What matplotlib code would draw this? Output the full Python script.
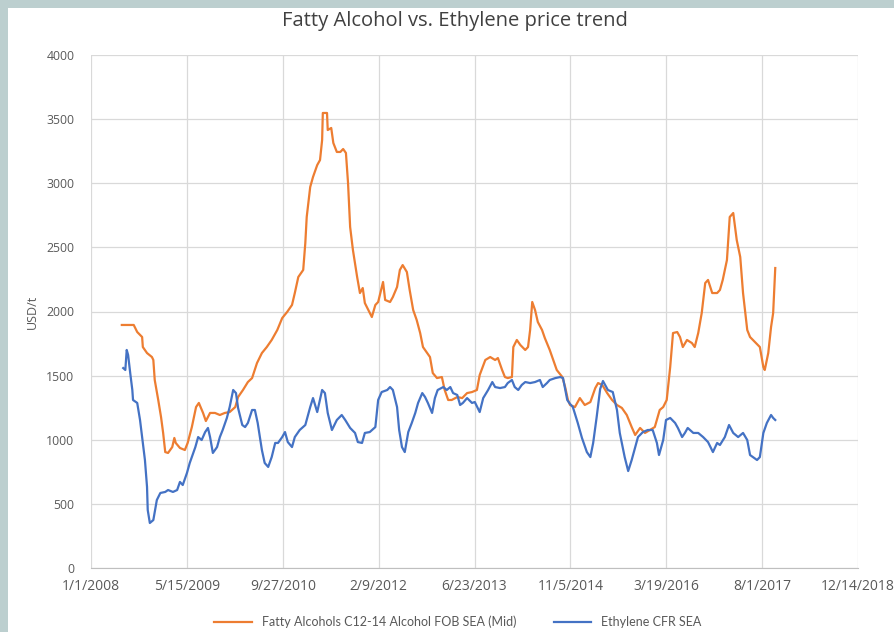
import matplotlib
matplotlib.use("Agg")
import matplotlib.pyplot as plt
import matplotlib.dates as mdates
from matplotlib.patches import Rectangle
import numpy as np
import pandas as pd

title = "Fatty Alcohol vs. Ethylene price trend"
y_label = "USD/t"
series_names = ["Fatty Alcohols C12-14 Alcohol FOB SEA (Mid)", "Ethylene CFR SEA"]

# dates as decimal years
fa_years = [2008.44, 2008.61, 2008.66, 2008.73, 2008.74, 2008.80, 2008.87, 2008.89, 2008.91, 2008.96,
            2009.00, 2009.03, 2009.06, 2009.10, 2009.16, 2009.19, 2009.21, 2009.27, 2009.34, 2009.38,
            2009.44, 2009.50, 2009.54, 2009.60, 2009.64, 2009.70, 2009.77, 2009.84, 2009.91, 2009.98,
            2010.06, 2010.10, 2010.17, 2010.24, 2010.30, 2010.37, 2010.44, 2010.51, 2010.58, 2010.66,
            2010.73, 2010.80, 2010.87, 2010.91, 2010.96, 2011.03, 2011.06, 2011.08, 2011.13, 2011.17,
            2011.23, 2011.27, 2011.30, 2011.31, 2011.37, 2011.38, 2011.43, 2011.46, 2011.51, 2011.56,
            2011.60, 2011.64, 2011.67, 2011.70, 2011.74, 2011.80, 2011.84, 2011.88, 2011.91, 2011.96,
            2012.01, 2012.06, 2012.10, 2012.17, 2012.20, 2012.27, 2012.31, 2012.37, 2012.41, 2012.45,
            2012.51, 2012.55, 2012.60, 2012.65, 2012.70, 2012.74, 2012.80, 2012.84, 2012.88, 2012.94,
            2013.01, 2013.05, 2013.10, 2013.15, 2013.23, 2013.30, 2013.37, 2013.44, 2013.51, 2013.55,
            2013.63, 2013.70, 2013.77, 2013.81, 2013.87, 2013.91, 2013.95, 2014.01, 2014.03, 2014.08,
            2014.13, 2014.20, 2014.24, 2014.27, 2014.30, 2014.34, 2014.38, 2014.44, 2014.48, 2014.55,
            2014.60, 2014.65, 2014.73, 2014.77, 2014.81, 2014.84, 2014.91, 2014.98, 2015.05, 2015.13,
            2015.20, 2015.24, 2015.30, 2015.37, 2015.44, 2015.51, 2015.58, 2015.65, 2015.72, 2015.77,
            2015.84, 2015.91, 2015.98, 2016.05, 2016.12, 2016.17, 2016.22, 2016.27, 2016.31, 2016.37,
            2016.41, 2016.45, 2016.51, 2016.58, 2016.62, 2016.67, 2016.72, 2016.77, 2016.81, 2016.87,
            2016.94, 2016.98, 2017.02, 2017.08, 2017.12, 2017.17, 2017.22, 2017.27, 2017.31, 2017.37,
            2017.41, 2017.48, 2017.55, 2017.60, 2017.62, 2017.67, 2017.71, 2017.74, 2017.77]
fa_values = [1895, 1895, 1840, 1801, 1723, 1676, 1645, 1622, 1466, 1310,
             1177, 1053, 904, 897, 943, 1014, 975, 936, 920, 975,
             1099, 1255, 1287, 1209, 1146, 1209, 1209, 1193, 1209, 1216,
             1255, 1333, 1388, 1450, 1481, 1598, 1676, 1723, 1778, 1856,
             1949, 1996, 2051, 2144, 2269, 2324, 2534, 2737, 2971, 3049,
             3142, 3181, 3337, 3548, 3548, 3415, 3431, 3314, 3244, 3244,
             3267, 3236, 3002, 2659, 2479, 2269, 2144, 2183, 2066, 2012,
             1957, 2051, 2074, 2230, 2090, 2074, 2113, 2191, 2324, 2362,
             2308, 2168, 2012, 1934, 1832, 1723, 1676, 1645, 1520, 1481,
             1489, 1388, 1310, 1310, 1333, 1325, 1364, 1372, 1388, 1505,
             1622, 1645, 1622, 1637, 1544, 1489, 1481, 1489, 1723, 1778,
             1739, 1700, 1723, 1856, 2074, 2012, 1918, 1856, 1793, 1700,
             1622, 1544, 1489, 1411, 1310, 1271, 1255, 1325, 1271, 1294,
             1403, 1442, 1427, 1364, 1310, 1271, 1248, 1193, 1099, 1037,
             1092, 1053, 1076, 1099, 1232, 1255, 1310, 1567, 1832, 1840,
             1801, 1723, 1778, 1754, 1723, 1832, 1988, 2222, 2246, 2144,
             2144, 2168, 2246, 2401, 2737, 2768, 2557, 2425, 2144, 1856,
             1801, 1762, 1723, 1567, 1544, 1676, 1879, 1988, 2339]

et_years = [2008.46, 2008.49, 2008.51, 2008.53, 2008.56, 2008.59, 2008.60, 2008.66, 2008.70, 2008.73,
            2008.77, 2008.80, 2008.81, 2008.84, 2008.89, 2008.94, 2008.99, 2009.06, 2009.10, 2009.17,
            2009.23, 2009.27, 2009.31, 2009.37, 2009.41, 2009.49, 2009.53, 2009.58, 2009.63, 2009.67,
            2009.70, 2009.74, 2009.80, 2009.84, 2009.88, 2009.94, 2009.98, 2010.03, 2010.07, 2010.10,
            2010.16, 2010.20, 2010.24, 2010.30, 2010.34, 2010.38, 2010.44, 2010.48, 2010.53, 2010.58,
            2010.63, 2010.67, 2010.73, 2010.77, 2010.81, 2010.87, 2010.91, 2010.98, 2011.06, 2011.13,
            2011.17, 2011.23, 2011.30, 2011.34, 2011.38, 2011.44, 2011.51, 2011.58, 2011.63, 2011.70,
            2011.77, 2011.81, 2011.87, 2011.91, 2011.98, 2012.06, 2012.10, 2012.15, 2012.23, 2012.27,
            2012.31, 2012.37, 2012.40, 2012.44, 2012.48, 2012.53, 2012.58, 2012.63, 2012.67, 2012.73,
            2012.77, 2012.81, 2012.87, 2012.91, 2012.95, 2013.03, 2013.08, 2013.13, 2013.17, 2013.23,
            2013.27, 2013.31, 2013.37, 2013.44, 2013.48, 2013.55, 2013.60, 2013.67, 2013.73, 2013.77,
            2013.84, 2013.91, 2013.95, 2014.01, 2014.05, 2014.10, 2014.15, 2014.20, 2014.27, 2014.34,
            2014.41, 2014.45, 2014.51, 2014.55, 2014.63, 2014.70, 2014.74, 2014.80, 2014.84, 2014.88,
            2014.95, 2015.01, 2015.08, 2015.13, 2015.17, 2015.22, 2015.27, 2015.31, 2015.38, 2015.45,
            2015.51, 2015.55, 2015.62, 2015.67, 2015.72, 2015.77, 2015.81, 2015.88, 2015.95, 2016.02,
            2016.08, 2016.11, 2016.17, 2016.21, 2016.27, 2016.34, 2016.38, 2016.44, 2016.48, 2016.52,
            2016.60, 2016.67, 2016.74, 2016.81, 2016.88, 2016.94, 2016.98, 2017.05, 2017.11, 2017.17,
            2017.24, 2017.31, 2017.37, 2017.41, 2017.45, 2017.51, 2017.55, 2017.60, 2017.65, 2017.71,
            2017.74, 2017.77]
et_values = [1559, 1544, 1700, 1661, 1520, 1388, 1310, 1287, 1154, 1021,
             842, 632, 452, 351, 374, 530, 585, 593, 608, 593,
             608, 671, 647, 741, 819, 943, 1021, 998, 1060, 1092,
             1021, 897, 943, 1021, 1076, 1170, 1255, 1388, 1364, 1248,
             1115, 1099, 1131, 1232, 1232, 1131, 920, 819, 788, 865,
             975, 975, 1021, 1060, 982, 943, 1021, 1076, 1115, 1255,
             1325, 1216, 1388, 1364, 1209, 1076, 1154, 1193, 1154, 1092,
             1053, 982, 975, 1053, 1060, 1099, 1310, 1372, 1388, 1411,
             1388, 1255, 1076, 943, 904, 1060, 1131, 1209, 1287, 1364,
             1333, 1287, 1209, 1325, 1388, 1411, 1388, 1411, 1364, 1349,
             1271, 1287, 1325, 1287, 1294, 1216, 1325, 1388, 1450, 1411,
             1403, 1411, 1442, 1466, 1411, 1388, 1427, 1450, 1442, 1450,
             1466, 1411, 1442, 1466, 1481, 1489, 1481, 1310, 1279, 1255,
             1131, 1014, 904, 865, 975, 1177, 1396, 1458, 1388, 1372,
             1232, 1053, 865, 756, 842, 943, 1021, 1060, 1076, 1076,
             975, 881, 998, 1154, 1170, 1131, 1092, 1021, 1053, 1092,
             1053, 1053, 1021, 982, 904, 975, 959, 1021, 1115, 1053,
             1021, 1053, 998, 881, 865, 842, 865, 1053, 1131, 1193,
             1170, 1154]

y_ticks = [0, 500, 1000, 1500, 2000, 2500, 3000, 3500, 4000]
x_start = "2008-01-01"
x_step_days = 500
n_x_ticks = 9


def to_dates(years):
    base = pd.Timestamp("2008-01-01")
    return [base + pd.Timedelta(days=(y - 2008) * 365.25) for y in years]


fig = plt.figure(figsize=(8.94, 6.32), dpi=100)
fig.patch.set_facecolor("#bccfcf")
fig.add_artist(Rectangle((8 / 894, 0), 1 - 8 / 894, 1 - 8 / 632, transform=fig.transFigure,
                         facecolor="white", edgecolor="none", zorder=0))

ax = fig.add_axes([91 / 894, 1 - 568 / 632, (858 - 91) / 894, (568 - 55) / 632])
ax.set_facecolor("white")

orange = "#ED7D31"
blue = "#4472C4"
ax.plot(to_dates(fa_years), fa_values, color=orange, lw=1.6, label=series_names[0], zorder=3)
ax.plot(to_dates(et_years), et_values, color=blue, lw=1.6, label=series_names[1], zorder=3)

xt = pd.date_range(x_start, periods=n_x_ticks, freq=f"{x_step_days}D")
ax.set_xlim(xt[0], xt[-1])
ax.set_xticks(list(xt))
ax.set_xticklabels([f"{d.month}/{d.day}/{d.year}" for d in xt])
ax.set_ylim(0, 4000)
ax.set_yticks(y_ticks)
ax.set_yticklabels([str(v) for v in y_ticks])

ax.grid(True, color="#d9d9d9", lw=0.9, zorder=0)
for s in ["top", "right", "left"]:
    ax.spines[s].set_visible(False)
ax.spines["bottom"].set_color("#bfbfbf")
ax.tick_params(axis="both", length=0, colors="#595959")
ax.tick_params(axis="x", labelsize=10, pad=8)
ax.tick_params(axis="y", labelsize=8.8, pad=12)
for lab in ax.get_xticklabels() + ax.get_yticklabels():
    lab.set_fontfamily("Open Sans")

ax.set_ylabel(y_label, fontsize=9, color="#595959", family="Open Sans", labelpad=5)
fig.text(455 / 894, 1 - 21 / 632, title, ha="center", va="center", fontsize=14.5,
         color="#404040", family="Open Sans")

leg = fig.legend(loc="center", bbox_to_anchor=(458 / 894, 1 - 622 / 632), ncol=2,
                 frameon=False, handlelength=3, columnspacing=3,
                 prop={"family": "Lato", "size": 9})
for t in leg.get_texts():
    t.set_color("#595959")

fig.savefig("out.png", dpi=100, facecolor=fig.get_facecolor())
